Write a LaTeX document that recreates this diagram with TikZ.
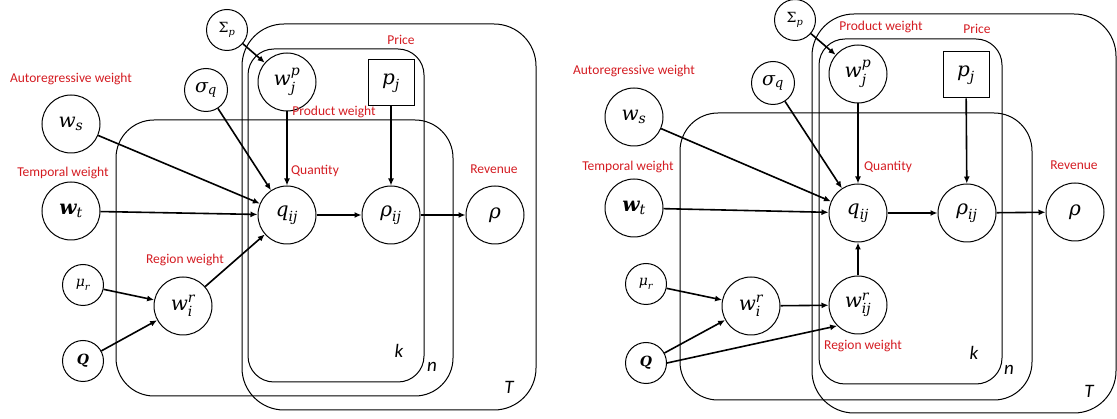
\documentclass[tikz,border=0pt]{standalone}
\usepackage{amsmath}
\usepackage{fontspec}
\newfontfamily\lblfont{Carlito}
\newfontfamily\mf{DejaVu Serif}
\newcommand\mv[1]{\text{\mf\itshape #1}}
\newcommand\mb[1]{\text{\mf\bfseries\itshape #1}}
\newcommand\mup[1]{\text{\mf #1}}
\usetikzlibrary{arrows.meta}
\definecolor{lblred}{RGB}{212,28,34}
\begin{document}
\begin{tikzpicture}[x=1pt,y=-1pt,
  var/.style={circle,draw,fill=white,line width=1pt,minimum size=58pt,inner sep=0pt,font=\fontsize{20}{20}\selectfont},
  hyper/.style={circle,draw,fill=white,line width=1pt,minimum size=41pt,inner sep=0pt,font=\fontsize{14}{14}\selectfont},
  midv/.style={circle,draw,fill=white,line width=1pt,minimum size=43pt,inner sep=0pt,font=\fontsize{19}{19}\selectfont},
  obs/.style={rectangle,draw,fill=white,line width=1pt,minimum size=46pt,inner sep=0pt,font=\fontsize{20}{20}\selectfont},
  lbl/.style={text=lblred,font=\lblfont\fontsize{13.5}{14}\selectfont,inner sep=0pt},
  idx/.style={font=\lblfont\itshape\fontsize{19}{19}\selectfont,inner sep=0pt},
  plate/.style={draw,line width=1pt},
  edge/.style={line width=1.6pt,-{Latex[length=7pt,width=6pt]}}
]
\useasboundingbox (0,0) rectangle (1117,419);

% ---------------- left model ----------------
\draw[plate,rounded corners=42pt] (242,24) rectangle (536,410);
\draw[plate,rounded corners=38pt] (116,120) rectangle (453,396);
\draw[plate,rounded corners=26pt] (248,49) rectangle (424,382);

\node[hyper] (Spa) at (227,30) {$\mup{Σ}_{\mv{p}}$};
\node[midv] (sqa) at (206,90) {$\mv{σ}_{\mv{q}}$};
\node[var] (wsa) at (71,124) {$\mv{w}_{\mv{s}}$};
\node[var] (wta) at (71,211) {$\mb{w}_{\mv{t}}$};
\node[hyper] (mura) at (83,285) {$\mv{μ}_{\mv{r}}$};
\node[hyper] (Qa) at (83,361) {$\mb{Q}$};
\node[var] (wira) at (183,306) {$\mv{w}_{\mv{i}}^{\mv{r}}$};
\node[var] (wjpa) at (287,82) {$\mv{w}_{\mv{j}}^{\mv{p}}$};
\node[obs] (pja) at (391,83) {$\mv{p}_{\mv{j}}$};
\node[var] (qija) at (287,215) {$\mv{q}_{\mv{ij}}$};
\node[var] (rhoija) at (391,215) {$\mv{ρ}_{\mv{ij}}$};
\node[var] (rhoa) at (495,215) {$\mv{ρ}$};

\node[lbl] (la1) at (71,79) {Autoregressive weight};
\node[lbl] (la2) at (63,173) {Temporal weight};
\node[lbl] (la3) at (185,260) {Region weight};
\node[lbl] (la4) at (401,40) {Price};
\node[lbl] (la5) at (334,112) {Product weight};
\node[lbl] (la6) at (315,171) {Quantity};
\node[lbl] (la7) at (494,169) {Revenue};
\node[idx] (ka) at (399,351) {k};
\node[idx] (na) at (432,367) {n};
\node[idx] (Ta) at (509,387) {T};

\draw[edge] (Spa) -- (wjpa);
\draw[edge] (sqa) -- (qija);
\draw[edge] (wsa) -- (qija);
\draw[edge] (wta) -- (qija);
\draw[edge] (mura) -- (wira);
\draw[edge] (Qa) -- (wira);
\draw[edge] (wira) -- (qija);
\draw[edge] (wjpa) -- (qija);
\draw[edge] (pja) -- (rhoija);
\draw[edge] (qija) -- (rhoija);
\draw[edge] (rhoija) -- (rhoa);

% ---------------- right model ----------------
\draw[plate,rounded corners=42pt] (812,14) rectangle (1116,413);
\draw[plate,rounded corners=38pt] (680,113) rectangle (1032,400);
\draw[plate,rounded corners=26pt] (819,39) rectangle (1002,384);

\node[hyper] (Spb) at (795,20) {$\mup{Σ}_{\mv{p}}$};
\node[midv] (sqb) at (773,83) {$\mv{σ}_{\mv{q}}$};
\node[var] (wsb) at (634,117) {$\mv{w}_{\mv{s}}$};
\node[var] (wtb) at (634,208) {$\mb{w}_{\mv{t}}$};
\node[hyper] (murb) at (646,284) {$\mv{μ}_{\mv{r}}$};
\node[hyper] (Qb) at (646,363) {$\mb{Q}$};
\node[var] (wirb) at (751,306) {$\mv{w}_{\mv{i}}^{\mv{r}}$};
\node[var] (wjpb) at (858,74) {$\mv{w}_{\mv{j}}^{\mv{p}}$};
\node[obs] (pjb) at (966,75) {$\mv{p}_{\mv{j}}$};
\node[var] (qijb) at (858,213) {$\mv{q}_{\mv{ij}}$};
\node[var] (rhoijb) at (967,213) {$\mv{ρ}_{\mv{ij}}$};
\node[var] (rhob) at (1075,212) {$\mv{ρ}$};
\node[var] (wijrb) at (858,305) {$\mv{w}_{\mv{ij}}^{\mv{r}}$};

\node[lbl] (lb1) at (634,71) {Autoregressive weight};
\node[lbl] (lb2) at (628,167) {Temporal weight};
\node[lbl] (lb3) at (863,346) {Region weight};
\node[lbl] (lb4) at (977,29) {Price};
\node[lbl] (lb5) at (881,27) {Product weight};
\node[lbl] (lb6) at (888,167) {Quantity};
\node[lbl] (lb7) at (1074,165) {Revenue};
\node[idx] (kb) at (974,353) {k};
\node[idx] (nb) at (1009,370) {n};
\node[idx] (Tb) at (1089,391) {T};

\draw[edge] (Spb) -- (wjpb);
\draw[edge] (sqb) -- (qijb);
\draw[edge] (wsb) -- (qijb);
\draw[edge] (wtb) -- (qijb);
\draw[edge] (murb) -- (wirb);
\draw[edge] (Qb) -- (wirb);
\draw[edge] (Qb.east) -- (wijrb.south west);
\draw[edge] (wirb) -- (wijrb);
\draw[edge] (wijrb) -- (qijb);
\draw[edge] (wjpb) -- (qijb);
\draw[edge] (pjb) -- (rhoijb);
\draw[edge] (qijb) -- (rhoijb);
\draw[edge] (rhoijb) -- (rhob);
\end{tikzpicture}
\end{document}
